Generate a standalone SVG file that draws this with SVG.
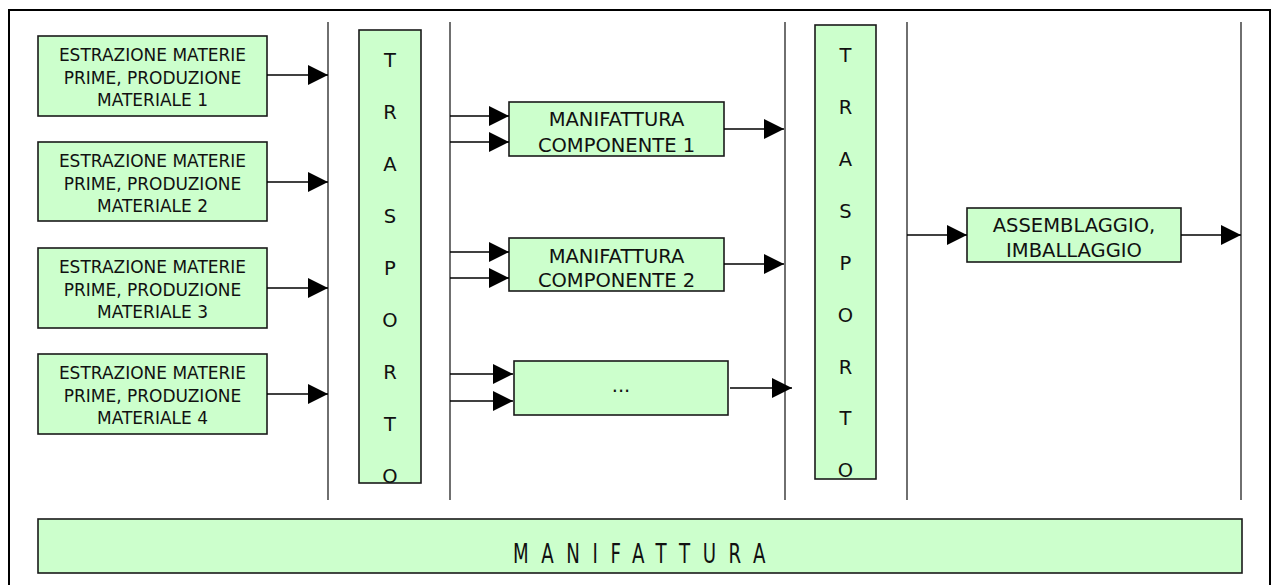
<svg xmlns="http://www.w3.org/2000/svg" width="1273" height="585" viewBox="0 0 1273 585">
<defs>
<style>
.box{fill:#CCFFCC;stroke:#1a1a1a;stroke-width:1.6}
.t17{font-family:"DejaVu Sans",Verdana,sans-serif;font-size:17px;fill:#111;text-anchor:middle}
.t19{font-family:"DejaVu Sans",Verdana,sans-serif;font-size:19.5px;fill:#111;text-anchor:middle}
.vl{stroke:#222;stroke-width:1.3;fill:none}
.ar{stroke:#000;stroke-width:1.6;fill:none;marker-end:url(#ah)}
</style>
<marker id="ah" markerUnits="userSpaceOnUse" markerWidth="20" markerHeight="20" refX="20" refY="10" orient="auto">
<path d="M0,0 L20,10 L0,20 Z" fill="#000"/>
</marker>
</defs>
<rect x="0" y="0" width="1273" height="585" fill="#fff"/>
<rect x="9" y="10" width="1261" height="590" fill="none" stroke="#000" stroke-width="2"/>

<g id="dividers">
<line class="vl" x1="328" y1="22" x2="328" y2="500"/>
<line class="vl" x1="450" y1="22" x2="450" y2="500"/>
<line class="vl" x1="785" y1="22" x2="785" y2="500"/>
<line class="vl" x1="907" y1="22" x2="907" y2="500"/>
<line class="vl" x1="1241" y1="22" x2="1241" y2="500"/>
</g>

<g id="n-estr1">
<rect class="box" x="38" y="36" width="229" height="80"/>
<text class="t17" x="152.5" y="61">ESTRAZIONE MATERIE</text>
<text class="t17" x="152.5" y="83.5">PRIME, PRODUZIONE</text>
<text class="t17" x="152.5" y="106">MATERIALE 1</text>
</g>
<g id="n-estr2">
<rect class="box" x="38" y="142" width="229" height="79"/>
<text class="t17" x="152.5" y="167">ESTRAZIONE MATERIE</text>
<text class="t17" x="152.5" y="189.5">PRIME, PRODUZIONE</text>
<text class="t17" x="152.5" y="212">MATERIALE 2</text>
</g>
<g id="n-estr3">
<rect class="box" x="38" y="248" width="229" height="80"/>
<text class="t17" x="152.5" y="273">ESTRAZIONE MATERIE</text>
<text class="t17" x="152.5" y="295.5">PRIME, PRODUZIONE</text>
<text class="t17" x="152.5" y="318">MATERIALE 3</text>
</g>
<g id="n-estr4">
<rect class="box" x="38" y="354" width="229" height="80"/>
<text class="t17" x="152.5" y="379">ESTRAZIONE MATERIE</text>
<text class="t17" x="152.5" y="401.5">PRIME, PRODUZIONE</text>
<text class="t17" x="152.5" y="424">MATERIALE 4</text>
</g>

<g id="n-trasporto1">
<rect class="box" x="359" y="30" width="62" height="453"/>
<text class="t19" x="390" y="67">T</text>
<text class="t19" x="390" y="119">R</text>
<text class="t19" x="390" y="171">A</text>
<text class="t19" x="390" y="223">S</text>
<text class="t19" x="390" y="275">P</text>
<text class="t19" x="390" y="327">O</text>
<text class="t19" x="390" y="379">R</text>
<text class="t19" x="390" y="431">T</text>
<text class="t19" x="390" y="483">O</text>
</g>

<g id="n-comp1">
<rect class="box" x="509" y="102" width="215" height="54"/>
<text class="t19" x="616.5" y="126">MANIFATTURA</text>
<text class="t19" x="616.5" y="151.5">COMPONENTE 1</text>
</g>
<g id="n-comp2">
<rect class="box" x="509" y="238" width="215" height="53"/>
<text class="t19" x="616.5" y="263">MANIFATTURA</text>
<text class="t19" x="616.5" y="287">COMPONENTE 2</text>
</g>
<g id="n-etc">
<rect class="box" x="514" y="361" width="214" height="54"/>
<text class="t19" x="621" y="392">...</text>
</g>

<g id="n-trasporto2">
<rect class="box" x="815" y="25" width="61" height="454"/>
<text class="t19" x="845.5" y="62">T</text>
<text class="t19" x="845.5" y="114">R</text>
<text class="t19" x="845.5" y="166">A</text>
<text class="t19" x="845.5" y="218">S</text>
<text class="t19" x="845.5" y="270">P</text>
<text class="t19" x="845.5" y="322">O</text>
<text class="t19" x="845.5" y="374">R</text>
<text class="t19" x="845.5" y="425">T</text>
<text class="t19" x="845.5" y="477">O</text>
</g>

<g id="n-assembl">
<rect class="box" x="967" y="208" width="214" height="54"/>
<text class="t19" x="1074" y="232">ASSEMBLAGGIO,</text>
<text class="t19" x="1074" y="257">IMBALLAGGIO</text>
</g>

<g id="n-manifattura">
<rect class="box" x="38" y="519" width="1204" height="54"/>
<g transform="translate(513,563) scale(0.7,1)">
<text x="0" y="0" font-family="DejaVu Sans,Verdana,sans-serif" font-size="26" fill="#111" letter-spacing="18">MANIFATTURA</text>
</g>
</g>

<g id="connectors">
<line class="ar" x1="267" y1="75" x2="328" y2="75"/>
<line class="ar" x1="267" y1="182" x2="328" y2="182"/>
<line class="ar" x1="267" y1="288" x2="328" y2="288"/>
<line class="ar" x1="267" y1="394" x2="328" y2="394"/>
<line class="ar" x1="450" y1="116" x2="509" y2="116"/>
<line class="ar" x1="450" y1="142" x2="509" y2="142"/>
<line class="ar" x1="450" y1="252" x2="509" y2="252"/>
<line class="ar" x1="450" y1="278" x2="509" y2="278"/>
<line class="ar" x1="450" y1="374" x2="513" y2="374"/>
<line class="ar" x1="450" y1="401" x2="513" y2="401"/>
<line class="ar" x1="724" y1="129" x2="784" y2="129"/>
<line class="ar" x1="724" y1="264" x2="784" y2="264"/>
<line class="ar" x1="730" y1="388" x2="792" y2="388"/>
<line class="ar" x1="907" y1="235" x2="967" y2="235"/>
<line class="ar" x1="1181" y1="235" x2="1241" y2="235"/>
</g>
</svg>
